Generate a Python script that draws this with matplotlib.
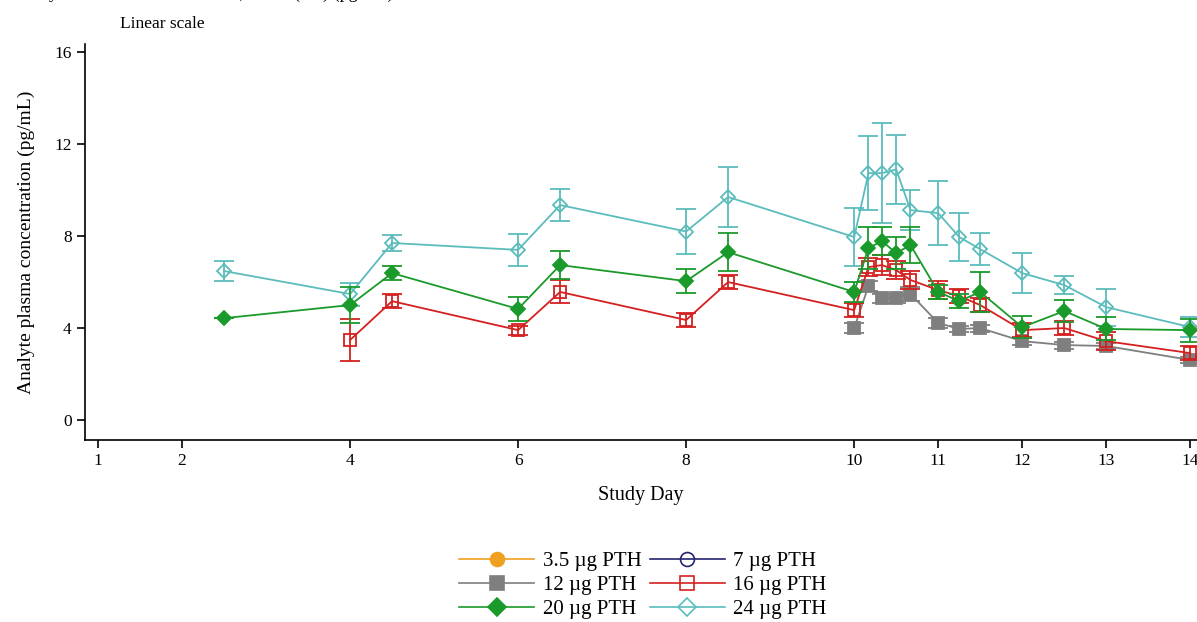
import numpy as np
import matplotlib.pyplot as plt
from matplotlib.lines import Line2D

plt.rcParams['font.family'] = ['Liberation Serif', 'DejaVu Serif']

# study days sampled in each dose group
days_full = [2.5, 4, 4.5, 6, 6.5, 8, 8.5, 10, 10.17, 10.33, 10.5, 10.67,
             11, 11.25, 11.5, 12, 12.5, 13, 14]
days_16 = [4, 4.5, 6, 6.5, 8, 8.5, 10, 10.17, 10.33, 10.5, 10.67,
           11, 11.25, 11.5, 12, 12.5, 13, 14]
days_12 = [10, 10.17, 10.33, 10.5, 10.67, 11, 11.25, 11.5, 12, 12.5, 13, 14]

# mean concentrations (pg/mL) and SD
mean_24 = [6.48, 5.48, 7.7, 7.4, 9.35, 8.2, 9.7, 7.96, 10.74, 10.74, 10.9, 9.13,
           9.0, 7.96, 7.43, 6.39, 5.87, 4.91, 4.04]
sd_24 = [0.43, 0.5, 0.35, 0.7, 0.7, 1.0, 1.3, 1.26, 1.6, 2.17, 1.5, 0.87,
         1.4, 1.04, 0.7, 0.87, 0.4, 0.8, 0.43]
mean_20 = [4.43, 5.0, 6.39, 4.83, 6.74, 6.04, 7.3, 5.57, 7.48, 7.78, 7.26, 7.61,
           5.57, 5.17, 5.57, 4.04, 4.74, 3.96, 3.91]
sd_20 = [0.0, 0.8, 0.3, 0.52, 0.6, 0.52, 0.83, 0.43, 0.9, 0.6, 0.7, 0.8,
         0.3, 0.3, 0.87, 0.48, 0.48, 0.5, 0.5]
mean_16 = [3.48, 5.17, 3.91, 5.57, 4.35, 6.0, 4.78, 6.65, 6.74, 6.52, 6.09,
           5.65, 5.39, 5.0, 3.91, 4.0, 3.43, 2.91]
sd_16 = [0.9, 0.3, 0.2, 0.5, 0.3, 0.3, 0.3, 0.4, 0.43, 0.4, 0.4,
         0.4, 0.3, 0.3, 0.3, 0.3, 0.4, 0.3]
mean_12 = [4.0, 5.83, 5.3, 5.3, 5.48, 4.22, 3.96, 4.0, 3.43, 3.26, 3.22, 2.61]
sd_12 = [0.2, 0.2, 0.2, 0.2, 0.3, 0.2, 0.15, 0.15, 0.15, 0.15, 0.15, 0.15]

x_ticks = [1, 2, 4, 6, 8, 10, 11, 12, 13, 14]
y_ticks = [0, 4, 8, 12, 16]

# dose group styles: label, color, marker, filled
groups = {
    '3.5': ('3.5 \u00b5g PTH', '#f0a020', 'o', True),
    '7': ('7 \u00b5g PTH', '#24246e', 'o', False),
    '12': ('12 \u00b5g PTH', '#7f7f7f', 's', True),
    '16': ('16 \u00b5g PTH', '#d42020', 's', False),
    '20': ('20 \u00b5g PTH', '#1a9a2a', 'D', True),
    '24': ('24 \u00b5g PTH', '#5bbcbc', 'D', False),
}

fig = plt.figure(figsize=(11.97, 6.22), dpi=100)
ax = fig.add_axes([0.071, 0.2926, 0.929, 0.6364])


def draw(key, x, y, err, z):
    label, color, marker, filled = groups[key]
    ms = 7 if marker == 'D' else 8
    ax.errorbar(x, y, yerr=err, color=color, lw=1.3, capsize=7, capthick=1.3,
                marker=marker, ms=ms, mfc=color if filled else 'none',
                mec=color, mew=1.3, zorder=z)


draw('24', days_full, mean_24, sd_24, 2)
draw('12', days_12, mean_12, sd_12, 3)
draw('16', days_16, mean_16, sd_16, 4)
draw('20', days_full, mean_20, sd_20, 5)

ax.set_xlim(0.845, 14.08)
ax.set_ylim(-0.87, 16.35)
ax.set_xticks(x_ticks)
ax.set_yticks(y_ticks)
ax.tick_params(direction='out', length=6, width=1.2, labelsize=12.5)
ax.spines['top'].set_visible(False)
ax.spines['right'].set_visible(False)
ax.spines['left'].set_linewidth(1.2)
ax.spines['bottom'].set_linewidth(1.2)

ax.set_xlabel('Study Day', fontsize=14.5, labelpad=12)
ax.set_ylabel('Analyte plasma concentration (pg/mL)', fontsize=14, labelpad=14)
fig.text(0.100, 0.955, 'Linear scale', fontsize=12.5)
fig.text(0.012, 1.004, 'Analyte Concentration vs Time, Mean (SD) (pg/mL)',
         fontsize=13, va='baseline')

# legend, filled row by row
order = ['3.5', '12', '20', '7', '16', '24']
handles = []
for k in order:
    label, color, marker, filled = groups[k]
    handles.append(Line2D([], [], color=color, lw=1.2, marker=marker,
                          ms=10 if marker != 'D' else 9,
                          mfc=color if filled else 'none', mec=color,
                          mew=1.2, label=label))
fig.legend(handles=handles, ncol=2, loc='center', bbox_to_anchor=(0.537, 0.059),
           frameon=False, fontsize=15, handlelength=3.6, columnspacing=0.4,
           handletextpad=0.4, labelspacing=0.2)

fig.savefig('out.png', dpi=100)
